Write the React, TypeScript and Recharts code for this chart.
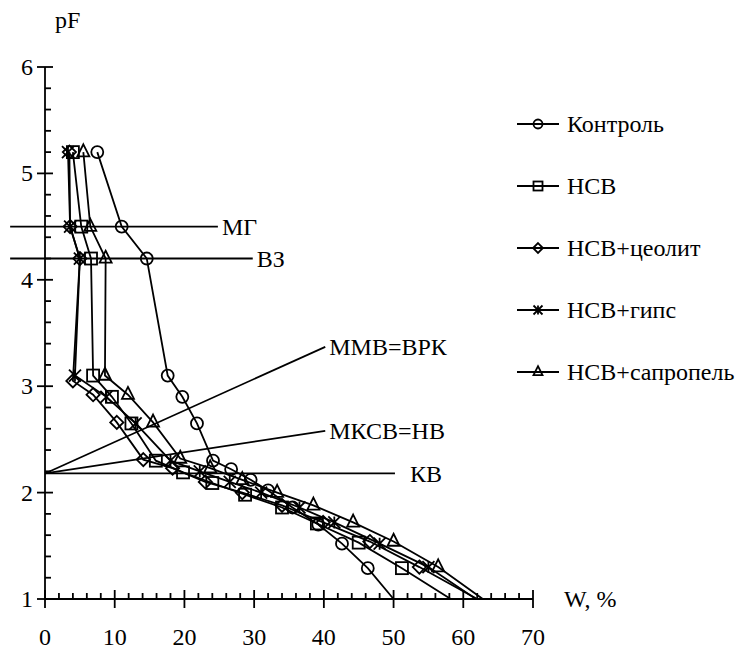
import React from 'react';
import { LineChart, Line, XAxis, YAxis, ReferenceLine, ReferenceDot } from 'recharts';

// W, % values (x) and pF values (y) for each variant
const SERIES_NAMES = ['Контроль', 'НСВ', 'НСВ+цеолит', 'НСВ+гипс', 'НСВ+сапропель'];
const SERIES_SHAPES = ['circle', 'square', 'diamond', 'star', 'triangle'];

const W_KONTROL = [7.5, 11, 14.6, 17.6, 19.7, 21.8, 24.1, 26.7, 29.5, 32, 35.5, 39.2, 42.6, 46.3, 50];
const PF_KONTROL = [5.2, 4.5, 4.2, 3.1, 2.9, 2.65, 2.3, 2.22, 2.12, 2.02, 1.86, 1.7, 1.52, 1.29, 1.0];

const W_NSV = [4, 5.2, 6.6, 6.9, 9.6, 12.4, 15.9, 19.8, 24, 28.7, 34, 39, 45, 51.2, 58.2];
const PF_NSV = [5.2, 4.5, 4.2, 3.1, 2.9, 2.65, 2.3, 2.19, 2.09, 1.98, 1.86, 1.71, 1.53, 1.29, 1.0];

const W_ZEOLIT = [3.5, 3.6, 5.0, 4.0, 6.9, 10.3, 14.1, 18.3, 23, 28.3, 34, 39.9, 46.6, 53.7, 62];
const PF_ZEOLIT = [5.2, 4.5, 4.2, 3.05, 2.92, 2.66, 2.31, 2.23, 2.1, 2.0, 1.88, 1.72, 1.54, 1.3, 1.0];

const W_GIPS = [3.3, 3.6, 5.0, 4.3, 8.8, 13, 18, 22.2, 26.5, 31, 36.5, 41.5, 48, 55, 61.8];
const PF_GIPS = [5.2, 4.5, 4.2, 3.1, 2.9, 2.65, 2.3, 2.2, 2.1, 2.0, 1.86, 1.72, 1.52, 1.3, 1.0];

const W_SAPROPEL = [5.5, 6.5, 8.7, 8.6, 11.9, 15.5, 19.4, 23.7, 28.3, 33.3, 38.5, 44.2, 50, 56.4, 62.8];
const PF_SAPROPEL = [5.2, 4.5, 4.2, 3.1, 2.92, 2.66, 2.32, 2.23, 2.12, 2.0, 1.88, 1.72, 1.54, 1.3, 1.0];

// hydrological constants: label, start [W, pF], end [W, pF]
const REF_LABELS = ['МГ', 'ВЗ', 'ММВ=ВРК', 'МКСВ=НВ', 'КВ'];
const REF_START = [[-5, 4.5], [-5, 4.2], [0, 2.18], [0, 2.18], [0, 2.18]];
const REF_END = [[24.8, 4.5], [29.8, 4.2], [40.2, 3.37], [40.2, 2.58], [50.2, 2.18]];

const X_TICKS = Array.from({ length: 36 }, (_, i) => i * 2);
const Y_TICKS = Array.from({ length: 26 }, (_, i) => Math.round((1 + i * 0.2) * 10) / 10);

const FONT = "'Liberation Serif', 'Times New Roman', Times, serif";
const TXT = { fontFamily: FONT, fontSize: 24 };

const zip = (w: number[], pf: number[]) => w.map((x, i) => ({ w: x, pF: pf[i] }));

const SERIES_DATA = [
  zip(W_KONTROL, PF_KONTROL),
  zip(W_NSV, PF_NSV),
  zip(W_ZEOLIT, PF_ZEOLIT),
  zip(W_GIPS, PF_GIPS),
  zip(W_SAPROPEL, PF_SAPROPEL),
];

const Marker = ({ shape, cx, cy, s }: { shape: string; cx: number; cy: number; s: number }) => {
  const common = { fill: 'none', stroke: '#000', strokeWidth: 1.8 };
  switch (shape) {
    case 'circle':
      return <circle cx={cx} cy={cy} r={s} {...common} />;
    case 'square':
      return <rect x={cx - s} y={cy - s} width={2 * s} height={2 * s} {...common} />;
    case 'diamond':
      return <polygon points={`${cx},${cy - s * 1.1} ${cx + s * 1.1},${cy} ${cx},${cy + s * 1.1} ${cx - s * 1.1},${cy}`} {...common} />;
    case 'star':
      return (
        <path
          d={`M${cx - s},${cy - s}L${cx + s},${cy + s}M${cx - s},${cy + s}L${cx + s},${cy - s}M${cx},${cy - s}L${cx},${cy + s}`}
          {...common}
        />
      );
    default:
      return (
        <polygon points={`${cx},${cy - s * 1.3} ${cx + s},${cy + s * 0.7} ${cx - s},${cy + s * 0.7}`} {...common} />
      );
  }
};

const XTick = (props: any) => {
  const { x, y, payload } = props;
  const major = payload.value % 10 === 0;
  return (
    <g>
      <line x1={x} x2={x} y1={y - (major ? 9 : 6)} y2={y + (major ? 9 : 0)} stroke="#000" strokeWidth={1.8} />
      {major && (
        <text x={x} y={y + 46} textAnchor="middle" style={TXT} fill="#000">
          {payload.value}
        </text>
      )}
    </g>
  );
};

const YTick = (props: any) => {
  const { x, y, payload } = props;
  const major = Math.abs(payload.value - Math.round(payload.value)) < 1e-6;
  return (
    <g>
      <line x1={x - (major ? 8 : 0)} x2={x + (major ? 8 : 6)} y1={y} y2={y} stroke="#000" strokeWidth={1.8} />
      {major && (
        <text x={x - 12} y={y + 8} textAnchor="end" style={TXT} fill="#000">
          {payload.value}
        </text>
      )}
    </g>
  );
};

const App = () => {
  return (
    <div style={{ position: 'absolute', left: 0, top: 0, width: 744, height: 651, background: '#fff', fontFamily: FONT }}>
      <LineChart width={744} height={651} margin={{ top: 67, right: 211, bottom: 12, left: 5 }}>
        <XAxis
          dataKey="w"
          type="number"
          domain={[0, 70]}
          ticks={X_TICKS}
          interval={0}
          height={40}
          tickSize={0}
          tickMargin={0}
          tickLine={false}
          axisLine={{ stroke: '#000', strokeWidth: 1.8 }}
          tick={<XTick />}
        />
        <YAxis
          dataKey="pF"
          type="number"
          domain={[1, 6]}
          ticks={Y_TICKS}
          interval={0}
          width={40}
          tickSize={0}
          tickMargin={0}
          tickLine={false}
          axisLine={{ stroke: '#000', strokeWidth: 1.8 }}
          tick={<YTick />}
        />
        {REF_LABELS.map((label, i) => (
          <ReferenceLine
            key={label}
            segment={[
              { x: REF_START[i][0], y: REF_START[i][1] },
              { x: REF_END[i][0], y: REF_END[i][1] },
            ]}
            stroke="#000"
            strokeWidth={1.8}
            ifOverflow="visible"
          />
        ))}
        {REF_LABELS.map((label, i) => (
          <ReferenceDot
            key={'lbl' + label}
            x={REF_END[i][0]}
            y={REF_END[i][1]}
            r={0}
            fill="none"
            stroke="none"
            ifOverflow="visible"
            label={{ value: label, position: 'right', offset: i === 4 ? 15 : 4, fill: '#000', style: TXT }}
          />
        ))}
        {SERIES_DATA.map((data, si) => (
          <Line
            key={SERIES_NAMES[si]}
            data={data}
            dataKey="pF"
            name={SERIES_NAMES[si]}
            type="linear"
            stroke="#000"
            strokeWidth={1.8}
            isAnimationActive={false}
            dot={(p: any) =>
              p.payload.pF <= 1 ? (
                <g key={p.index} />
              ) : (
                <g key={p.index}>
                  <Marker shape={SERIES_SHAPES[si]} cx={p.cx} cy={p.cy} s={6} />
                </g>
              )
            }
            activeDot={false}
          />
        ))}
      </LineChart>
      <svg width={744} height={651} style={{ position: 'absolute', left: 0, top: 0, pointerEvents: 'none' }}>
        <text x={55} y={28} style={TXT} fill="#000">pF</text>
        <text x={564} y={607} style={TXT} fill="#000">W, %</text>
        {SERIES_NAMES.map((name, i) => {
          const y = 124 + i * 62;
          return (
            <g key={name}>
              <line x1={517} x2={559} y1={y} y2={y} stroke="#000" strokeWidth={1.8} />
              <Marker shape={SERIES_SHAPES[i]} cx={538} cy={y} s={4.5} />
              <text x={567} y={y + 8} style={TXT} fill="#000">{name}</text>
            </g>
          );
        })}
      </svg>
    </div>
  );
};

export default App;
